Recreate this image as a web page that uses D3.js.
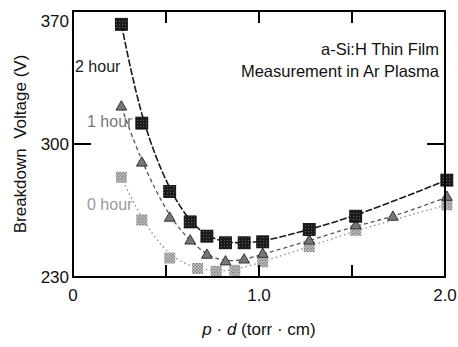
<!DOCTYPE html>
<html>
<head>
<meta charset="utf-8">
<script src="https://cdn.jsdelivr.net/npm/d3@7"></script>
<style>
  html, body { margin: 0; padding: 0; background: #fff; }
  svg { display: block; font-family: "Liberation Sans", Arial, sans-serif; }
</style>
</head>
<body>
<div id="chart"></div>
<script>
// values
const pd2h = [0.26, 0.37, 0.52, 0.63, 0.72, 0.82, 0.92, 1.02, 1.27, 1.52, 2.01];
const vb2h = [363, 311, 275, 259, 251.5, 248, 248, 248.5, 255, 262, 281];

const pd1h = [0.26, 0.37, 0.52, 0.63, 0.72, 0.82, 0.92, 1.02, 1.27, 1.52, 1.72, 2.01];
const vb1h = [319.5, 290, 261, 249, 241.5, 238, 239, 242, 249, 257, 261.5, 272];

const pd0h = [0.26, 0.37, 0.52, 0.67, 0.77, 0.87, 1.02, 1.27, 1.52, 2.01];
const vb0h = [282.5, 260, 240, 234.5, 233, 233.5, 238, 246, 254.5, 268];

const xTicks = [0, 0.5, 1.0, 1.5, 2.0];
const xTickLabels = ['0', '', '1.0', '', '2.0'];
const yTicks = [230, 300, 370];

const seriesLabels = ['2 hour', '1 hour', '0 hour'];
const annotation = ['a-Si:H Thin Film', 'Measurement in Ar Plasma'];

const svgWidth = 458, svgHeight = 347;
const margin = { top: 11, right: 13, bottom: 70, left: 73 };
const width = svgWidth - margin.left - margin.right;
const height = svgHeight - margin.top - margin.bottom;

const svg = d3.select('#chart').append('svg')
  .attr('width', svgWidth)
  .attr('height', svgHeight);

// halftone-ish fills for the markers
const defs = svg.append('defs');
const grey = defs.append('pattern')
  .attr('id', 'greyDots')
  .attr('width', 3).attr('height', 3)
  .attr('patternUnits', 'userSpaceOnUse');
grey.append('rect').attr('width', 3).attr('height', 3).attr('fill', '#c8c8c8');
grey.append('rect').attr('width', 1.5).attr('height', 1.5).attr('fill', '#7a7a7a');
grey.append('rect').attr('x', 1.5).attr('y', 1.5).attr('width', 1.5).attr('height', 1.5).attr('fill', '#8e8e8e');

const dark = defs.append('pattern')
  .attr('id', 'darkDots')
  .attr('width', 3).attr('height', 3)
  .attr('patternUnits', 'userSpaceOnUse');
dark.append('rect').attr('width', 3).attr('height', 3).attr('fill', '#1c1c1c');
dark.append('rect').attr('x', 1).attr('y', 1).attr('width', 1).attr('height', 1).attr('fill', '#5a5a5a');

const chart = svg.append('g')
  .attr('transform', `translate(${margin.left}, ${margin.top})`);

const xScale = d3.scaleLinear().domain([0, 2.0]).range([0, width]);
const yScale = d3.scaleLinear().domain([230, 370]).range([height, 0]);

// fitted curves
const line = d3.line()
  .curve(d3.curveBasis)
  .x(d => xScale(d[0]))
  .y(d => yScale(d[1]));

const curves = [
  { x: pd0h, y: vb0h, stroke: '#8c8c8c', width: 1.3, dash: '1.5,3' },
  { x: pd1h, y: vb1h, stroke: '#555', width: 1.3, dash: '4,3' },
  { x: pd2h, y: vb2h, stroke: '#1a1a1a', width: 1.6, dash: '7,2' }
];

curves.forEach(c => {
  chart.append('path')
    .attr('d', line(d3.zip(c.x, c.y)))
    .attr('fill', 'none')
    .attr('stroke', c.stroke)
    .attr('stroke-width', c.width)
    .attr('stroke-dasharray', c.dash);
});

// 0 hour: grey squares
chart.selectAll('.sq0')
  .data(d3.zip(pd0h, vb0h))
  .enter().append('rect')
  .attr('class', 'sq0')
  .attr('x', d => xScale(d[0]) - 5.5)
  .attr('y', d => yScale(d[1]) - 5.5)
  .attr('width', 11).attr('height', 11)
  .attr('fill', 'url(#greyDots)');

// 1 hour: triangles
const tri = d3.symbol().type(d3.symbolTriangle).size(50);
chart.selectAll('.tri1')
  .data(d3.zip(pd1h, vb1h))
  .enter().append('path')
  .attr('class', 'tri1')
  .attr('d', tri)
  .attr('transform', d => `translate(${xScale(d[0])}, ${yScale(d[1])})`)
  .attr('fill', '#777')
  .attr('stroke', '#333')
  .attr('stroke-width', 1);

// 2 hour: dark squares
chart.selectAll('.sq2')
  .data(d3.zip(pd2h, vb2h))
  .enter().append('rect')
  .attr('class', 'sq2')
  .attr('x', d => xScale(d[0]) - 6)
  .attr('y', d => yScale(d[1]) - 6)
  .attr('width', 12).attr('height', 12)
  .attr('fill', 'url(#darkDots)')
  .attr('stroke', '#000')
  .attr('stroke-width', 0.8);

// frame
chart.append('rect')
  .attr('width', width).attr('height', height)
  .attr('fill', 'none')
  .attr('stroke', '#000')
  .attr('stroke-width', 2);

// inward ticks on all four sides
xTicks.slice(1, -1).forEach(t => {
  chart.append('line')
    .attr('x1', xScale(t)).attr('x2', xScale(t))
    .attr('y1', height).attr('y2', height - 12)
    .attr('stroke', '#000').attr('stroke-width', 2);
  chart.append('line')
    .attr('x1', xScale(t)).attr('x2', xScale(t))
    .attr('y1', 0).attr('y2', 12)
    .attr('stroke', '#000').attr('stroke-width', 2);
});
yTicks.slice(1, -1).forEach(t => {
  chart.append('line')
    .attr('x1', 0).attr('x2', 18)
    .attr('y1', yScale(t)).attr('y2', yScale(t))
    .attr('stroke', '#000').attr('stroke-width', 2);
  chart.append('line')
    .attr('x1', width).attr('x2', width - 18)
    .attr('y1', yScale(t)).attr('y2', yScale(t))
    .attr('stroke', '#000').attr('stroke-width', 2);
});

// tick labels
xTicks.forEach((t, i) => {
  chart.append('text')
    .attr('x', xScale(t))
    .attr('y', height + 24)
    .attr('text-anchor', 'middle')
    .attr('font-size', '17px')
    .attr('fill', '#111')
    .text(xTickLabels[i]);
});
yTicks.forEach(t => {
  chart.append('text')
    .attr('x', -4)
    .attr('y', Math.max(yScale(t), 10) + 6)
    .attr('text-anchor', 'end')
    .attr('font-size', '17px')
    .attr('fill', '#111')
    .text(t);
});

// axis titles
const xTitle = svg.append('text')
  .attr('x', margin.left + width / 2 + 0)
  .attr('y', 335)
  .attr('text-anchor', 'middle')
  .attr('font-size', '17px')
  .attr('fill', '#111');
xTitle.append('tspan').attr('font-style', 'italic').text('p');
xTitle.append('tspan').text(' \u00b7 ');
xTitle.append('tspan').attr('font-style', 'italic').text('d');
xTitle.append('tspan').text(' (torr \u00b7 cm)');

svg.append('text')
  .attr('transform', `translate(26, ${margin.top + height / 2}) rotate(-90)`)
  .attr('text-anchor', 'middle')
  .attr('font-size', '17px')
  .attr('fill', '#111')
  .attr('xml:space', 'preserve')
  .text('Breakdown  Voltage (V)');

// annotation, top right
annotation.forEach((s, i) => {
  chart.append('text')
    .attr('x', width - 6)
    .attr('y', 44 + i * 22)
    .attr('text-anchor', 'end')
    .attr('font-size', '16.5px')
    .attr('fill', '#111')
    .text(s);
});

// series labels next to the curves
const labelPos = [[2, 61, '#222'], [14, 116, '#777'], [14, 199, '#999']];
seriesLabels.forEach((s, i) => {
  chart.append('text')
    .attr('x', labelPos[i][0])
    .attr('y', labelPos[i][1])
    .attr('font-size', '16px')
    .attr('fill', labelPos[i][2])
    .text(s);
});
</script>
</body>
</html>
